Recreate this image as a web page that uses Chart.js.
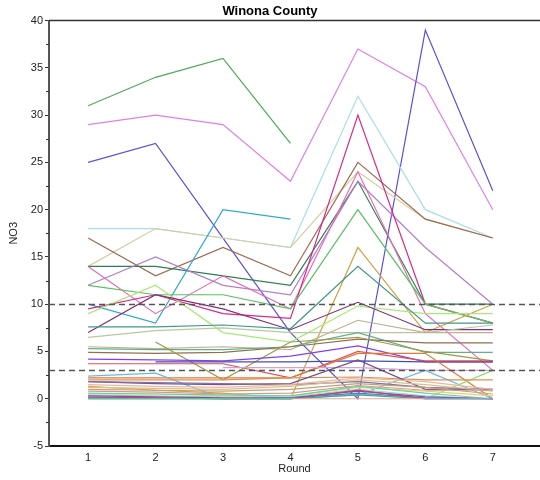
<!DOCTYPE html>
<html>
<head>
<meta charset="utf-8">
<title>Winona County</title>
<script src="https://cdn.jsdelivr.net/npm/chart.js@4/dist/chart.umd.min.js"></script>
<style>
  body { margin: 0; background: #fff; }
  canvas { display: block; }
</style>
</head>
<body>
<canvas id="chart" width="540" height="480"></canvas>
<script>
const rounds = [1, 2, 3, 4, 5, 6, 7];
const yTicks = [-5, 0, 5, 10, 15, 20, 25, 30, 35, 40];
const refLines = [10, 3];

// one array per well, NO3 by round (null = not sampled)
const lowSeries = [
  [0, 0, 0, 0, null, null, null],
  [null, null, null, 0, 0, 0, null],
  [null, null, null, null, null, 0, 0],
  [0, 0, 0, 0, 0.4, 0, 0],
  [0.1, 0.1, 0, 0, 0.9, 0, 0],
  [0.2, 0.1, 0, 0.1, 0.6, 0.1, 0],
  [0.3, 0.2, 0.1, 0.1, 0.8, 0.2, 0],
  [0.4, 0.3, 0.2, 0.2, 1.0, 0.3, 0],
  [0.6, 0.5, 0.4, 0.3, 1.3, 0.6, 0],
  [0.5, 0.5, 0.3, 0.3, 1.2, 0.8, 0.3],
  [0.8, 0.7, 0.5, 0.6, 1.4, 0.9, 0.9],
  [1.0, 0.9, 0.8, 1.0, 1.6, 1.2, 0.5],
  [1.2, 1.1, 1.0, 1.3, 2.0, 1.5, 0.8],
  [1.5, 1.3, 1.2, 1.5, 2.2, 1.8, 1.0],
  [1.8, 1.7, 1.6, 1.5, 1.8, 1.2, 1.0],
  [1.8, 1.6, 1.5, 1.6, 4.1, 1.0, 1.0],
  [2.0, 2.0, 2.0, 2.2, 2.3, 2.0, 2.0],
  [0, 0, 0, 0, 0.5, 0, 3],
  [2.4, 2.7, 0, 0, 0.4, 3, 0],
  [null, null, 3.3, 3.3, 3.3, 3, 3],
  [2.2, 2.2, 2.2, 2.2, 4.8, 4.8, 0],
  [3.7, 3.7, 3.7, 2.2, 5.0, 4.0, 4.0]
];
const lowColors = [
  '#70c0a0', '#e8a898', '#90a8d0', '#40a0a0', '#c04080', '#5080c0',
  '#a040a0', '#90e0c0', '#70d0a0', '#e8d070', '#d09898', '#c8a070',
  '#d8c090', '#e8b8a0', '#8870a0', '#705090', '#e09050', '#88e070',
  '#68b8e8', '#d8a0d0', '#e07838', '#e05050'
];

const midSeries = [
  [null, 3.9, 3.9, 3.9, 4.0, 3.9, 3.9],
  [4.2, 4.1, 4.0, 4.5, 5.6, 3.9, 3.9],
  [null, 6, 2, 6, 6.5, 5, 4],
  [4.9, 4.8, 4.9, 5.5, 6.3, 5.9, 5.9],
  [5.3, 5.2, 5.2, 5.5, 7, 4.9, 4.9],
  [5.5, 5.3, 5.5, 5.2, 8.3, 7, 7],
  [6.5, 7.2, 7.5, 7, 7, 7, 7.8],
  [7.6, 7.6, 7.8, 7.4, 14, 8, 8],
  [7, 11, 9.5, 7.3, 10.2, 7.3, 7.3],
  [9, 12, 7, 6, 9.8, 9, 9],
  [1.3, 0.9, 0.6, 0, 16, 7, 10]
];
const midColors = [
  '#4050b0', '#8040f0', '#a09848', '#907050', '#60b088', '#c0b090',
  '#b8c8a0', '#409888', '#803078', '#a8e878', '#d0a040'
];

const highSeries = [
  [12, 11, 11, 9.5, 20, 10, 8],
  [9.5, 11, 9, 8.5, 30, 10, 8],
  [14, 9, 13, 9.5, 24, 9, 3],
  [10, 8, 20, 19, null, null, null],
  [12, 15, 12, 11, 23, 16, 10],
  [14, 14, 13, 12, 23, 10, 10],
  [17, 13, 16, 13, 25, 19, 17],
  [14, 18, 17, 16, 24, 19, 17],
  [18, 18, 17, 16, 32, 20, 17],
  [25, 27, 17, 7, 0, 39, 22],
  [29, 30, 29, 23, 37, 33, 20],
  [31, 34, 36, 27, null, null, null]
];
const highColors = [
  '#5cc060', '#d82888', '#e868b8', '#30a8d0', '#b080c8', '#2e8050',
  '#a06a50', '#d2d0a0', '#a8dfe8', '#5a50e0', '#e07fe8', '#4caa5c'
];

const allSeries = lowSeries.concat(midSeries, highSeries);
const allColors = lowColors.concat(midColors, highColors);

const datasets = allSeries.map((vals, i) => ({
  data: vals.map((v, j) => ({ x: rounds[j], y: v })),
  borderColor: allColors[i],
  borderWidth: 1.2,
  pointRadius: 0,
  fill: false,
  tension: 0
}));

const font = '"Liberation Sans", Arial, sans-serif';

const extras = {
  id: 'extras',
  afterDatasetsDraw(chart) {
    const ctx = chart.ctx;
    const area = chart.chartArea;
    const y = chart.scales.y;
    ctx.save();
    // reference levels
    ctx.strokeStyle = '#555';
    ctx.lineWidth = 1.6;
    ctx.setLineDash([6, 4]);
    refLines.forEach(v => {
      const py = Math.round(y.getPixelForValue(v)) + 0.5;
      ctx.beginPath();
      ctx.moveTo(area.left, py);
      ctx.lineTo(area.right, py);
      ctx.stroke();
    });
    ctx.setLineDash([]);
    // top frame
    ctx.strokeStyle = '#333';
    ctx.lineWidth = 1.5;
    ctx.beginPath();
    ctx.moveTo(area.left, area.top);
    ctx.lineTo(area.right, area.top);
    ctx.stroke();
    // minor ticks
    ctx.strokeStyle = '#333';
    ctx.lineWidth = 1;
    for (let i = 0; i < yTicks.length - 1; i++) {
      const py = Math.round(y.getPixelForValue((yTicks[i] + yTicks[i + 1]) / 2)) + 0.5;
      ctx.beginPath();
      ctx.moveTo(area.left - 3, py);
      ctx.lineTo(area.left, py);
      ctx.stroke();
    }
    ctx.restore();
  }
};

new Chart(document.getElementById('chart'), {
  type: 'line',
  data: { datasets: datasets },
  options: {
    responsive: false,
    animation: false,
    events: [],
    plugins: {
      legend: { display: false },
      tooltip: { enabled: false },
      title: {
        display: true,
        text: 'Winona County',
        color: '#000',
        font: { family: font, size: 13, weight: 'bold' },
        padding: { top: 4, bottom: 1 }
      }
    },
    scales: {
      x: {
        type: 'linear',
        min: 0.42,
        max: 7.7,
        afterBuildTicks: s => { s.ticks = rounds.map(v => ({ value: v })); },
        afterFit: s => { s.height = 34; },
        grid: { drawOnChartArea: false, drawTicks: false },
        border: { color: '#111', width: 2 },
        ticks: { color: '#222', font: { family: font, size: 11 }, padding: 5 },
        title: {
          display: true,
          text: 'Round',
          color: '#222',
          font: { family: font, size: 11 },
          padding: { top: 0, bottom: 4 }
        }
      },
      y: {
        min: -5,
        max: 40,
        afterBuildTicks: s => { s.ticks = yTicks.map(v => ({ value: v })); },
        afterFit: s => { s.width = 49; },
        grid: { drawOnChartArea: false, tickLength: 4, tickColor: '#333' },
        border: { color: '#555', width: 2 },
        ticks: { color: '#222', font: { family: font, size: 11 }, padding: 2 },
        title: {
          display: true,
          text: 'NO3',
          color: '#222',
          font: { family: font, size: 11 },
          padding: { top: 7, bottom: 0 }
        }
      }
    }
  },
  plugins: [extras]
});
</script>
</body>
</html>
